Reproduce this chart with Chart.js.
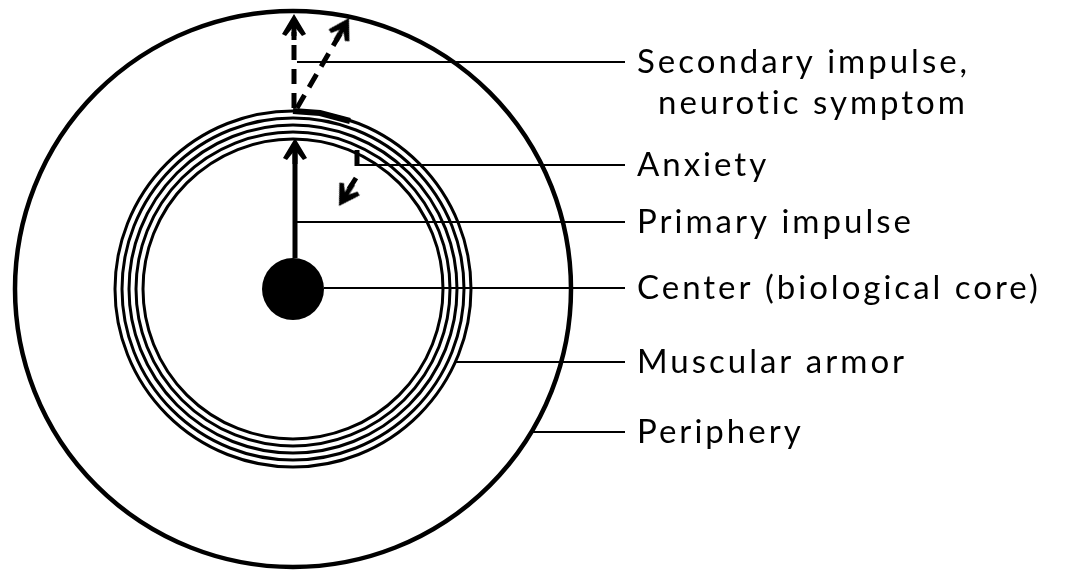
<!DOCTYPE html>
<html>
<head>
<meta charset="utf-8">
<script src="https://cdn.jsdelivr.net/npm/chart.js@4"></script>
<style>
  body { margin: 0; background: #fff; }
  #wrap { width: 1069px; height: 571px; position: relative; }
</style>
</head>
<body>
<div id="wrap"><canvas id="myChart"></canvas></div>
<script>
// diagram values (units of the drawing grid: 0..1069 across, 0..571 down)
const core = [{ x: 293, y: 289 }];
const ringRadii = [150, 157, 164, 171, 178];
const outerRadius = 278;
const coreRadius = 31;

const labels = ['Secondary impulse,', 'neurotic symptom', 'Anxiety', 'Primary impulse',
  'Center (biological core)', 'Muscular armor', 'Periphery'];
const labelX = [637, 658, 637, 637, 637, 637, 637];
const labelY = [62, 103, 165, 222, 288, 362, 432];
const leaderFrom = [297, null, 357, 297, 324, 455, 531];
const leaderTo = 625;

const primaryShaft = [{ x: 295, y: 258 }, { x: 295, y: 152 }];
const primaryArrow = [{ x: 295, y: 138 }];
const secondaryUp = [{ x: 294, y: 108 }, { x: 294, y: 32 }];
const secondaryDiag = [{ x: 297, y: 108 }, { x: 340, y: 34 }];
const secondaryArrows = [{ x: 294, y: 14 }, { x: 349, y: 18 }];
const blockedArc = [{ x: 293, y: 111 }, { x: 320, y: 113 }, { x: 350, y: 121 }];
const anxietyHook = [{ x: 357, y: 150 }, { x: 357, y: 166 }];
const anxietyShaft = [{ x: 356, y: 178 }, { x: 349, y: 189 }];
const anxietyArrow = [{ x: 339, y: 206 }];

// barbed arrow head, tip at the centre of the image
function arrowHead() {
  const c = document.createElement('canvas');
  c.width = 52; c.height = 52;
  const g = c.getContext('2d');
  g.fillStyle = '#000';
  g.beginPath();
  g.moveTo(26, 26);
  g.lineTo(38, 46);
  g.lineTo(34, 48);
  g.lineTo(26, 38);
  g.lineTo(18, 48);
  g.lineTo(14, 46);
  g.closePath();
  g.fill();
  g.fillRect(23.5, 32, 5, 20);
  return c;
}
const head = arrowHead();

const seg = (data, width, dash) => ({
  data: data, showLine: true, borderColor: '#000', borderWidth: width,
  borderDash: dash || [], pointRadius: 0, borderCapStyle: 'butt', clip: false
});

const datasets = [];
datasets.push({ data: core, pointRadius: outerRadius, pointBorderWidth: 4.5,
  pointBackgroundColor: 'rgba(0,0,0,0)', pointBorderColor: '#000', clip: false });
ringRadii.forEach(r => datasets.push({ data: core, pointRadius: r, pointBorderWidth: 3,
  pointBackgroundColor: 'rgba(0,0,0,0)', pointBorderColor: '#000', clip: false }));
datasets.push({ data: core, pointRadius: coreRadius, pointBorderWidth: 0,
  pointBackgroundColor: '#000', clip: false });

labels.forEach((t, i) => {
  if (leaderFrom[i] !== null) {
    datasets.push(seg([{ x: leaderFrom[i], y: labelY[i] }, { x: leaderTo, y: labelY[i] }], 2));
  }
});
datasets.push(seg(primaryShaft, 5));
datasets.push(seg(secondaryUp, 5, [15, 9]));
datasets.push(seg(secondaryDiag, 5, [15, 9]));
datasets.push(seg(blockedArc, 6));
datasets.push(seg(anxietyHook, 5));
datasets.push(seg(anxietyShaft, 5));
datasets.push({ data: primaryArrow.concat(secondaryArrows, anxietyArrow),
  pointStyle: head, pointRadius: 10, pointRotation: [0, 0, 30, 212], clip: false });

const labelPlugin = {
  id: 'labels',
  afterDatasetsDraw(chart) {
    const ctx = chart.ctx, sx = chart.scales.x, sy = chart.scales.y;
    ctx.save();
    ctx.fillStyle = '#000';
    ctx.font = '33px Lato';
    ctx.letterSpacing = '3px';
    ctx.textBaseline = 'middle';
    labels.forEach((t, i) => {
      ctx.fillText(t, sx.getPixelForValue(labelX[i]), sy.getPixelForValue(labelY[i]));
    });
    ctx.restore();
  }
};

new Chart(document.getElementById('myChart').getContext('2d'), {
  type: 'scatter',
  data: { datasets: datasets },
  options: {
    responsive: true,
    maintainAspectRatio: false,
    animation: false,
    events: [],
    layout: { padding: 0, autoPadding: false },
    plugins: { legend: { display: false }, tooltip: { enabled: false } },
    scales: {
      x: { type: 'linear', min: 0, max: 1069, display: false },
      y: { type: 'linear', min: 0, max: 571, reverse: true, display: false }
    }
  },
  plugins: [labelPlugin]
});
</script>
</body>
</html>
